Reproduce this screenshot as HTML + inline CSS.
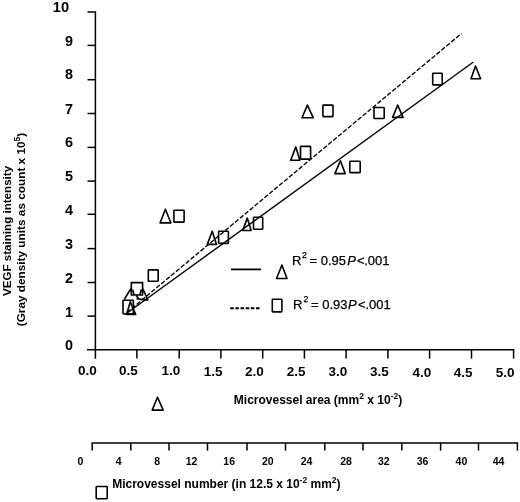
<!DOCTYPE html>
<html><head><meta charset="utf-8"><style>
html,body{margin:0;padding:0;background:#fff;width:520px;height:502px;overflow:hidden}
svg{display:block;filter:grayscale(1)}
text{fill:#000;font-family:"Liberation Sans",sans-serif}
</style></head><body>
<svg width="520" height="502" viewBox="0 0 520 502">
<rect width="520" height="502" fill="#fff"/>
<g stroke="#000" stroke-width="1.5" fill="none">
<line x1="95.4" y1="11.2" x2="95.4" y2="358.8"/>
<line x1="87" y1="349.85" x2="514.3" y2="349.85"/>
<line x1="87.5" y1="12" x2="95.4" y2="12"/>
<line x1="87.5" y1="45.4" x2="95.4" y2="45.4"/>
<line x1="87.5" y1="79.7" x2="95.4" y2="79.7"/>
<line x1="87.5" y1="113.5" x2="95.4" y2="113.5"/>
<line x1="87.5" y1="147.4" x2="95.4" y2="147.4"/>
<line x1="87.5" y1="181.1" x2="95.4" y2="181.1"/>
<line x1="87.5" y1="214.3" x2="95.4" y2="214.3"/>
<line x1="87.5" y1="248.6" x2="95.4" y2="248.6"/>
<line x1="87.5" y1="282.5" x2="95.4" y2="282.5"/>
<line x1="87.5" y1="316.1" x2="95.4" y2="316.1"/>
<line x1="136.9" y1="349.85" x2="136.9" y2="358.6"/>
<line x1="179.2" y1="349.85" x2="179.2" y2="358.6"/>
<line x1="220.9" y1="349.85" x2="220.9" y2="358.6"/>
<line x1="262.7" y1="349.85" x2="262.7" y2="358.6"/>
<line x1="304.4" y1="349.85" x2="304.4" y2="358.6"/>
<line x1="346.1" y1="349.85" x2="346.1" y2="358.6"/>
<line x1="387.9" y1="349.85" x2="387.9" y2="358.6"/>
<line x1="429.6" y1="349.85" x2="429.6" y2="358.6"/>
<line x1="471.5" y1="349.85" x2="471.5" y2="358.6"/>
<line x1="513.6" y1="349.85" x2="513.6" y2="358.6"/>
<line x1="91.4" y1="442.9" x2="518.1" y2="442.9"/>
<line x1="92.2" y1="442.9" x2="92.2" y2="450.6"/>
<line x1="130.8" y1="442.9" x2="130.8" y2="450.6"/>
<line x1="169" y1="442.9" x2="169" y2="450.6"/>
<line x1="207.5" y1="442.9" x2="207.5" y2="450.6"/>
<line x1="247" y1="442.9" x2="247" y2="450.6"/>
<line x1="285.5" y1="442.9" x2="285.5" y2="450.6"/>
<line x1="324.8" y1="442.9" x2="324.8" y2="450.6"/>
<line x1="363" y1="442.9" x2="363" y2="450.6"/>
<line x1="401.8" y1="442.9" x2="401.8" y2="450.6"/>
<line x1="440.6" y1="442.9" x2="440.6" y2="450.6"/>
<line x1="478.5" y1="442.9" x2="478.5" y2="450.6"/>
<line x1="517.4" y1="442.9" x2="517.4" y2="450.6"/>
</g>
<line x1="126.8" y1="313.3" x2="473.4" y2="62" stroke="#000" stroke-width="1.4"/>
<line x1="126.8" y1="312.6" x2="461.6" y2="33.4" stroke="#000" stroke-width="1.35" stroke-dasharray="4.6 1.8"/>
<line x1="231" y1="269.4" x2="261" y2="269.4" stroke="#000" stroke-width="1.8"/>
<line x1="230.2" y1="308.3" x2="261" y2="308.3" stroke="#000" stroke-width="1.9" stroke-dasharray="3.6 1.55"/>
<g stroke="#000" stroke-width="1.6" fill="none" stroke-linejoin="round">
<polygon points="157.5,397.2 152.2,410.1 163.2,410.1"/>
<polygon points="165.4,209.2 160.1,222.9 170.9,222.9"/>
<polygon points="212.2,231.2 207.3,244.4 216.5,244.4"/>
<polygon points="247.3,218.1 242.7,230.5 251.1,230.5"/>
<polygon points="281.9,265.0 276.6,278.5 287.0,278.5"/>
<polygon points="295.8,146.9 290.7,160.2 299.8,160.2"/>
<polygon points="307.4,105.1 302.0,117.8 313.3,117.8"/>
<polygon points="340.4,160.8 334.9,173.6 345.2,173.6"/>
<polygon points="397.7,105.1 392.6,117.4 403.1,117.4"/>
<polygon points="475.5,66.0 471.0,78.7 480.6,78.7"/>
<polygon points="130.3,301.8 126.6,314.4 135.7,314.4"/>
<rect x="173.9" y="210.2" width="10.2" height="11.9" rx="0.6"/>
<rect x="218.6" y="231.2" width="9.8" height="12.2" rx="0.6"/>
<rect x="253.5" y="217.3" width="9.2" height="12.0" rx="0.6"/>
<rect x="272.3" y="299.3" width="9.6" height="12.6" rx="0.6"/>
<rect x="300.5" y="146.4" width="10.1" height="12.7" rx="0.6"/>
<rect x="322.9" y="105.1" width="10.1" height="11.5" rx="0.6"/>
<rect x="349.8" y="161.3" width="10.4" height="11.3" rx="0.6"/>
<rect x="374.0" y="107.5" width="10.2" height="11.0" rx="0.6"/>
<rect x="432.7" y="73.2" width="9.5" height="11.7" rx="0.6"/>
<rect x="148.3" y="269.9" width="9.9" height="11.4" rx="0.6"/>
<rect x="123.0" y="300.3" width="10.3" height="13.6" rx="0.6"/>
<rect x="96.2" y="486.5" width="11.0" height="12.2" rx="0.6"/>
<path d="M131.3,282.6 H142.6 V295 H131.3 Z M131.6,287.5 L124.3,299.3 M142.3,287.5 L148,300.3 M132.6,289.5 L134,294.5 M141.3,289.5 L140,294.5 M136.5,298.6 L148,300.3 M136.3,295.5 L138.5,298.5"/>
</g>
<g font-family="Liberation Sans" font-weight="bold" font-size="14.4" text-anchor="end">
<text x="69.1" y="12.2" font-size="14.6">10</text>
<text x="73" y="46.0">9</text>
<text x="73" y="79.4">8</text>
<text x="73" y="113.9">7</text>
<text x="73" y="146.5">6</text>
<text x="73" y="180.8">5</text>
<text x="73" y="214.6">4</text>
<text x="73" y="248.8">3</text>
<text x="73" y="282.8">2</text>
<text x="73" y="316.6">1</text>
<text x="73" y="350.2">0</text>
</g>
<g font-family="Liberation Sans" font-weight="bold" font-size="13.5" text-anchor="middle">
<text x="87.3" y="374.9">0.0</text>
<text x="128.5" y="375.1">0.5</text>
<text x="171" y="375.3">1.0</text>
<text x="213.1" y="375.5">1.5</text>
<text x="254.5" y="375.7">2.0</text>
<text x="296.2" y="375.9">2.5</text>
<text x="337.8" y="376.2">3.0</text>
<text x="379.5" y="376.4">3.5</text>
<text x="421.9" y="376.6">4.0</text>
<text x="463.2" y="376.8">4.5</text>
<text x="505.1" y="377.0">5.0</text>
</g>
<g font-family="Liberation Sans" font-weight="bold" font-size="10.5" text-anchor="middle">
<text x="80.5" y="465">0</text>
<text x="118.6" y="465">4</text>
<text x="157.2" y="465">8</text>
<text x="191.5" y="465">12</text>
<text x="229.2" y="465">16</text>
<text x="267.8" y="465">20</text>
<text x="306.5" y="465">24</text>
<text x="346" y="465">28</text>
<text x="383.8" y="465">32</text>
<text x="422.6" y="465">36</text>
<text x="461.4" y="465">40</text>
<text x="498.5" y="465">44</text>
</g>
<text x="233.8" y="403.8" font-family="Liberation Sans" font-weight="bold" font-size="12">Microvessel area (mm<tspan font-size="8.5" dy="-4.5">2</tspan><tspan dy="4.5"> x 10</tspan><tspan font-size="8.5" dy="-4.5">-2</tspan><tspan dy="4.5">)</tspan></text>
<text x="112.2" y="488" font-family="Liberation Sans" font-weight="bold" font-size="12">Microvessel number (in 12.5 x 10<tspan font-size="8.5" dy="-5">-2</tspan><tspan dy="5"> mm</tspan><tspan font-size="8.5" dy="-5">2</tspan><tspan dy="5">)</tspan></text>
<text transform="translate(11,296) rotate(-90)" font-family="Liberation Sans" font-weight="bold" font-size="11.6">VEGF staining intensity</text>
<text transform="translate(24.7,326.3) rotate(-90)" font-family="Liberation Sans" font-weight="bold" font-size="11.8">(Gray density units as count x 10<tspan font-size="8.5" dy="-4.5">5</tspan><tspan dy="4.5">)</tspan></text>
<text y="265" font-family="Liberation Sans" font-size="13" stroke="#000" stroke-width="0.25"><tspan x="291.9">R</tspan><tspan x="302.1" y="257.9" font-size="8.8">2</tspan><tspan x="309.6" y="265">=</tspan><tspan x="320.7">0.95</tspan><tspan x="347.3" font-style="italic">P</tspan><tspan x="356.9">&lt;</tspan><tspan x="364.2">.001</tspan></text>
<text y="308.7" font-family="Liberation Sans" font-size="13" stroke="#000" stroke-width="0.25"><tspan x="293.1">R</tspan><tspan x="303.6" y="301.59999999999997" font-size="8.8">2</tspan><tspan x="311.1" y="308.7">=</tspan><tspan x="322.2">0.93</tspan><tspan x="348.0" font-style="italic">P</tspan><tspan x="358.1">&lt;</tspan><tspan x="365.5">.001</tspan></text>
</svg>
</body></html>
